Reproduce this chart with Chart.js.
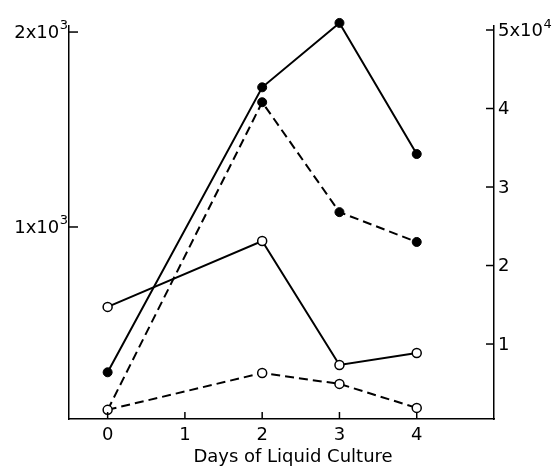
<!DOCTYPE html>
<html><head><meta charset="utf-8">
<script src="https://cdn.jsdelivr.net/npm/chart.js@4/dist/chart.umd.min.js"></script>
<style>html,body{margin:0;padding:0;background:#fff}#wrap{width:555px;height:468px}</style>
</head><body><div id="wrap"><canvas id="c" width="555" height="468"></canvas></div>
<script>
const days = [0, 2, 3, 4];
const xTicks = [0, 1, 2, 3, 4];
const filledSolid = [6400, 42700, 50900, 34200];   // right axis (cells)
const filledDashed = [1600, 40800, 26800, 23000];  // right axis (cells)
const openSolid = [590, 928, 292, 354];            // left axis
const openDashed = [62, 251, 195, 72];             // left axis
const leftTicks = [1000, 2000];
const leftTickLabels = [['1x10', '3'], ['2x10', '3']];
const rightTicks = [10000, 20000, 30000, 40000, 50000];
const rightTickLabels = [['1', ''], ['2', ''], ['3', ''], ['4', ''], ['5x10', '4']];
const xTitle = 'Days of Liquid Culture';

function pts(ys) { return days.map((d, i) => ({ x: d, y: ys[i] })); }

const FONT = '"DejaVu Sans", sans-serif';

const deco = {
  id: 'deco',
  afterDraw(chart) {
    const ctx = chart.ctx, ca = chart.chartArea;
    const sx = chart.scales.x, yl = chart.scales.yL, yr = chart.scales.yR;
    ctx.save();
    ctx.strokeStyle = '#000'; ctx.fillStyle = '#000'; ctx.lineWidth = 1.5;
    const line = (a, b, c, d) => { ctx.beginPath(); ctx.moveTo(a, b); ctx.lineTo(c, d); ctx.stroke(); };
    xTicks.forEach(v => { const p = sx.getPixelForValue(v); line(p, ca.bottom, p, ca.bottom - 7); });
    leftTicks.forEach(v => { const p = yl.getPixelForValue(v); line(ca.left, p, ca.left + 9, p); });
    rightTicks.forEach(v => { const p = yr.getPixelForValue(v); line(ca.right, p, ca.right - 8, p); });

    // x tick labels
    ctx.font = '18px ' + FONT;
    ctx.textAlign = 'center'; ctx.textBaseline = 'middle';
    xTicks.forEach(v => { ctx.fillText(String(v), sx.getPixelForValue(v), ca.bottom + 16); });

    // left labels
    leftTicks.forEach((v, i) => {
      const p = yl.getPixelForValue(v);
      const [main, sup] = leftTickLabels[i];
      ctx.font = '13px ' + FONT;
      const sw = ctx.measureText(sup).width;
      const supX = ca.left - 1 - sw;
      ctx.textAlign = 'left'; ctx.textBaseline = 'alphabetic';
      ctx.fillText(sup, supX, p - 3);
      ctx.font = '18px ' + FONT;
      ctx.textAlign = 'right'; ctx.textBaseline = 'middle';
      ctx.fillText(main, supX - 0.5, p + 1.5);
    });

    // right labels
    rightTicks.forEach((v, i) => {
      const p = yr.getPixelForValue(v);
      const [main, sup] = rightTickLabels[i];
      ctx.font = '18px ' + FONT;
      ctx.textAlign = 'left'; ctx.textBaseline = 'middle';
      ctx.fillText(main, ca.right + 4, p + 1);
      const mw = ctx.measureText(main).width;
      if (sup) {
        ctx.font = '13px ' + FONT;
        ctx.textBaseline = 'alphabetic';
        ctx.fillText(sup, ca.right + 4 + mw + 0.5, p - 2);
      }
    });

    // x title
    ctx.font = '18px ' + FONT;
    ctx.textAlign = 'center'; ctx.textBaseline = 'alphabetic';
    ctx.fillText(xTitle, 293, 462);
    ctx.restore();
  }
};

const common = { borderColor: '#000', borderWidth: 2, tension: 0, clip: false, pointRadius: 4.5, pointHoverRadius: 4.5, pointBorderColor: '#000' };

new Chart(document.getElementById('c'), {
  type: 'line',
  data: {
    datasets: [
      Object.assign({}, common, { label: 'filled solid', data: pts(filledSolid), yAxisID: 'yR', pointBackgroundColor: '#000', pointBorderWidth: 1, order: 3 }),
      Object.assign({}, common, { label: 'filled dashed', data: pts(filledDashed), yAxisID: 'yR', borderDash: [9, 5], pointBackgroundColor: '#000', pointBorderWidth: 1, pointRadius: [0, 4.5, 4.5, 4.5], order: 2 }),
      Object.assign({}, common, { label: 'open solid', data: pts(openSolid), yAxisID: 'yL', pointBackgroundColor: '#fff', pointBorderWidth: 1.5, order: 1 }),
      Object.assign({}, common, { label: 'open dashed', data: pts(openDashed), yAxisID: 'yL', borderDash: [9, 5], pointBackgroundColor: '#fff', pointBorderWidth: 1.5, order: 0 })
    ]
  },
  options: {
    responsive: false, animation: false, devicePixelRatio: 1,
    layout: { padding: { top: 26, left: 0, right: 0, bottom: 0 } },
    plugins: { legend: { display: false }, tooltip: { enabled: false } },
    events: [],
    scales: {
      x: { type: 'linear', min: -0.5, max: 5, ticks: { display: false }, grid: { display: false },
           border: { display: true, color: '#000', width: 1.5 }, afterFit(s) { s.height = 49; } },
      yL: { type: 'linear', position: 'left', min: 15, max: 2031, ticks: { display: false }, grid: { display: false },
            border: { display: true, color: '#000', width: 1.5 }, afterFit(s) { s.width = 69; } },
      yR: { type: 'linear', position: 'right', min: 450, max: 50510, ticks: { display: false }, grid: { display: false },
            border: { display: true, color: '#000', width: 1.5 }, afterFit(s) { s.width = 61; } }
    }
  },
  plugins: [deco]
});
</script>
</body></html>
